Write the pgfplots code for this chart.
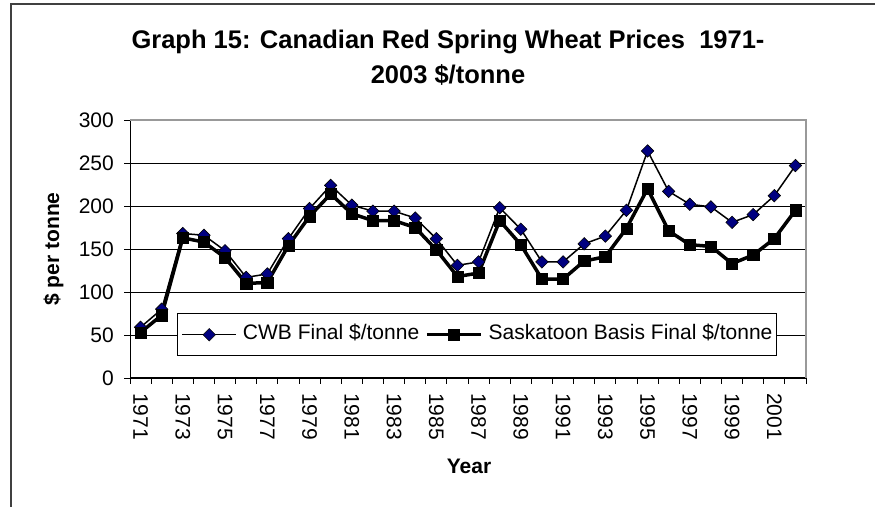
\documentclass[border=0pt]{standalone}
\usepackage{pgfplots}
\pgfplotsset{compat=1.18}
\usepackage{fontspec}
\setmainfont{Liberation Sans}
\definecolor{cwbblue}{RGB}{0,0,128}
\pgfplotstableread{
year cwb sask
1971 59 53
1972 80 73
1973 168 163
1974 166 158
1975 148 140
1976 117 110
1977 121 111
1978 162 154
1979 197 188
1980 224 214
1981 201 191
1982 194 183
1983 194 183
1984 186 175
1985 162 149
1986 131 118
1987 135 122
1988 198 183
1989 173 155
1990 135 115
1991 135 115
1992 156 136
1993 165 141
1994 195 174
1995 264 220
1996 217 171
1997 202 155
1998 199 153
1999 181 133
2000 190 143
2001 212 162
2002 247 195
}\datatable
\begin{document}
\begin{tikzpicture}[x=1pt,y=1pt]
\useasboundingbox (0,0) rectangle (875,506);
\fill[white] (0,0) rectangle (875,506);
\draw[line width=1.2pt, black!75] (11,-5) -- (11,502) -- (880,502);
\node[anchor=base, font=\bfseries\fontsize{25.5}{30}\selectfont] at (448,457.5) {Graph 15: Canadian Red Spring Wheat Prices\ \ 1971-};
\node[anchor=base, font=\bfseries\fontsize{25.5}{30}\selectfont] at (448,422.5) {2003 \$/tonne};
\node[rotate=90, anchor=base, font=\bfseries\fontsize{21}{25}\selectfont] at (59,257) {\$ per tonne};
\node[anchor=base, font=\bfseries\fontsize{21}{25}\selectfont] at (469,33) {Year};
\begin{axis}[
  at={(130pt,128pt)}, anchor=south west,
  scale only axis, width=676pt, height=258pt,
  xmin=1970.5, xmax=2002.5, ymin=0, ymax=300,
  axis x line*=bottom, axis y line*=left,
  axis line style={black, line width=1pt},
  /pgf/number format/assume math mode=true,
  tick label style={font=\fontsize{21}{25}\selectfont},
  xtick={1971,1973,1975,1977,1979,1981,1983,1985,1987,1989,1991,1993,1995,1997,1999,2001},
  xticklabels={1971,1973,1975,1977,1979,1981,1983,1985,1987,1989,1991,1993,1995,1997,1999,2001},
  minor xtick={1970.5,1971.5,...,2002.5},
  major tick length=6pt, minor tick length=6pt,
  tick align=outside,
  tick style={black, line width=0.8pt},
  xtick style={draw=none},
  minor x tick style={draw=black, line width=0.8pt},
  xticklabel style={rotate=-90, anchor=west, inner sep=0pt, xshift=9pt},
  ytick={0,50,...,300},
  yticklabel style={anchor=east, inner sep=0pt, xshift=-10pt},
  ymajorgrids, grid style={black, line width=0.8pt},
  legend columns=2,
  legend style={at={(0.0695,0.0853)}, anchor=south west, draw=black, line width=1pt, fill=white,
    font=\fontsize{21}{25}\selectfont, inner xsep=4pt, inner ysep=11pt, column sep=6pt,
    nodes={inner sep=0pt, text height=15pt, text depth=4.5pt}},
  legend image code/.code={\draw[mark repeat=2,mark phase=2,#1] plot coordinates {(0pt,0pt) (27pt,0pt) (54pt,0pt)};},
  after end axis/.code={\draw[gray!80, line width=1.2pt] (rel axis cs:0,1) -- (rel axis cs:1,1) -- (rel axis cs:1,0);},
]
\addplot[black, line width=1.5pt, mark=square*, mark size=4.4pt,
  mark options={rotate=45, fill=cwbblue, draw=black, line width=0.6pt}] table[x=year, y=cwb] {\datatable};
\addlegendentry{CWB Final \$/tonne}
\addplot[black, line width=3.5pt, mark=square*, mark size=5.6pt,
  mark options={fill=black, draw=black, line width=0.5pt}] table[x=year, y=sask] {\datatable};
\addlegendentry{Saskatoon Basis Final \$/tonne}
\end{axis}
\end{tikzpicture}
\end{document}
